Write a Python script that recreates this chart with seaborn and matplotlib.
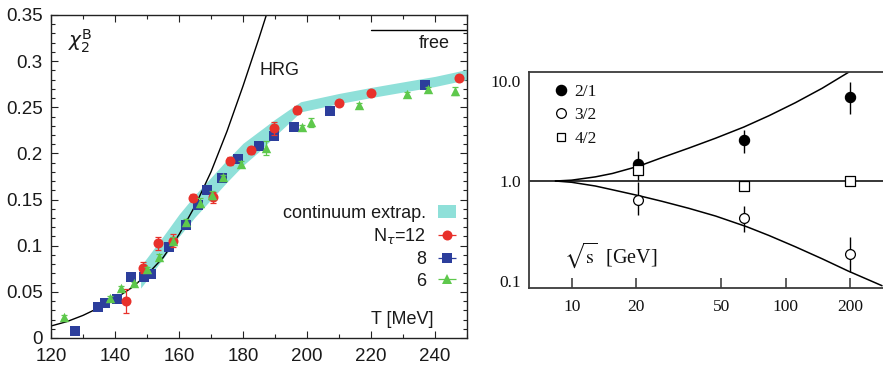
import numpy as np
import pandas as pd
import matplotlib
matplotlib.use("Agg")
import matplotlib.pyplot as plt
import seaborn as sns
from matplotlib.patches import Patch
from matplotlib.lines import Line2D
from matplotlib.ticker import MultipleLocator, FixedLocator, FixedFormatter, NullLocator, FuncFormatter

sns.set_theme(style="ticks")
plt.rcParams["font.family"] = ["Liberation Sans", "DejaVu Sans"]
plt.rcParams["mathtext.fontset"] = "dejavusans"

# ---------------- left panel: baryon number fluctuation chi_2^B vs T ----------------
# lattice results, N_tau = 12
T_nt12 = [143.4, 148.9, 153.5, 158.1, 164.3, 170.7, 175.8, 182.5, 189.6, 196.8, 210.0, 220.0, 247.6]
chi_nt12 = [0.040, 0.0762, 0.1026, 0.1055, 0.1520, 0.1524, 0.1918, 0.2035, 0.2272, 0.2470, 0.2550, 0.2650, 0.2820]
err_nt12 = [0.0134, 0.006, 0.0069, 0.007, 0.004, 0.006, 0.004, 0.004, 0.007, 0.004, 0.003, 0.003, 0.003]

# N_tau = 8
T_nt8 = [127.5, 134.6, 136.9, 140.6, 145.0, 149.2, 151.3, 157.0, 162.2, 166.0, 168.7, 173.3,
         178.4, 184.9, 189.7, 195.9, 207.2, 236.9]
chi_nt8 = [0.0079, 0.0333, 0.0383, 0.0419, 0.0664, 0.0657, 0.0693, 0.0983, 0.1224, 0.1440, 0.1604, 0.1730,
           0.1940, 0.2082, 0.2190, 0.2290, 0.2463, 0.2740]
err_nt8 = [0.002] * len(T_nt8)

# N_tau = 6
T_nt6 = [124.2, 138.3, 142.0, 145.8, 150.0, 153.9, 158.2, 162.3, 166.7, 170.2, 173.9, 179.5,
         187.2, 198.5, 201.3, 216.3, 231.1, 237.7, 246.3]
chi_nt6 = [0.0231, 0.0437, 0.0545, 0.0592, 0.0744, 0.0881, 0.1055, 0.1260, 0.1466, 0.1550, 0.1740, 0.1885,
           0.2055, 0.2283, 0.2337, 0.2525, 0.2644, 0.2695, 0.2680]
err_nt6 = [0.002, 0.002, 0.002, 0.002, 0.003, 0.003, 0.004, 0.003, 0.005, 0.004, 0.003, 0.003,
           0.0075, 0.003, 0.005, 0.002, 0.002, 0.003, 0.0045]

# continuum extrapolated band
T_band = [148, 150, 155, 160, 165, 170, 175, 180, 185, 190, 195, 198, 204, 210, 220, 230, 240, 250]
band_lo = [0.054, 0.063, 0.086, 0.110, 0.131, 0.150, 0.169, 0.187, 0.202, 0.219, 0.235, 0.245,
           0.2495, 0.254, 0.2605, 0.2665, 0.2725, 0.280]
band_hi = [0.078, 0.087, 0.110, 0.134, 0.155, 0.174, 0.193, 0.211, 0.224, 0.237, 0.249, 0.256,
           0.2605, 0.265, 0.2715, 0.2775, 0.2835, 0.291]

# hadron resonance gas
T_hrg = [120, 125, 130, 135, 140, 145, 150, 155, 160, 165, 170, 175, 180, 185, 187.3]
chi_hrg = [0.013, 0.0178, 0.0245, 0.0328, 0.0425, 0.054, 0.0685, 0.087, 0.112, 0.143, 0.180,
           0.224, 0.273, 0.325, 0.35]

# free (Stefan-Boltzmann) limit
free_T = [220, 250]
free_val = 0.3337

# ---------------- right panel: ratios vs sqrt(s) ----------------
sqrt_s = [20.5, 64.0, 200.0]
r21 = [1.49, 2.56, 6.96]
r21_lo = [1.02, 1.92, 4.67]
r21_hi = [1.99, 3.22, 9.84]
r32 = [0.645, 0.428, 0.185]
r32_lo = [0.456, 0.306, 0.123]
r32_hi = [0.98, 0.565, 0.272]
r42 = [1.28, 0.90, 1.00]

s_up = [8.4, 10, 12.9, 15.5, 20.6, 26.5, 35.3, 47.1, 63.8, 83.6, 111, 148, 197.7]
r_up = [1.00, 1.02, 1.10, 1.19, 1.41, 1.72, 2.14, 2.69, 3.48, 4.52, 6.10, 8.51, 12.4]
s_dn = [8.4, 10, 12.9, 15.5, 20.6, 26.5, 35.3, 47.1, 66, 83.6, 111, 148, 196, 282]
r_dn = [1.00, 0.971, 0.891, 0.817, 0.713, 0.625, 0.532, 0.445, 0.347, 0.284, 0.219, 0.166, 0.125, 0.0891]

C12, C8, C6 = "#e8312b", "#2c3e9c", "#5ec84c"
CBAND = "#8fe0d9"

fig = plt.figure(figsize=(8.83, 3.67), dpi=100)
axL = fig.add_axes([51 / 883, 29 / 367, 416 / 883, 323 / 367])
axR = fig.add_axes([529 / 883, 79 / 367, 354 / 883, 216 / 367])

# ---- left panel drawing ----
axL.fill_between(T_band, band_lo, band_hi, color=CBAND, lw=0, zorder=1)
sns.lineplot(x=T_hrg, y=chi_hrg, ax=axL, color="black", lw=1.0, sort=False, estimator=None, zorder=2)
axL.plot(free_T, [free_val, free_val], color="black", lw=1.0)

series = [
    (T_nt8, chi_nt8, err_nt8, C8, "s", 60),
    (T_nt12, chi_nt12, err_nt12, C12, "o", 52),
    (T_nt6, chi_nt6, err_nt6, C6, "^", 46),
]
for i, (T, v, e, c, m, s) in enumerate(series):
    axL.errorbar(T, v, yerr=e, fmt="none", ecolor=c, elinewidth=0.9, capsize=2.5, capthick=0.9, zorder=3 + 2 * i)
    sns.scatterplot(x=T, y=v, ax=axL, marker=m, s=s, color=c, linewidth=0, zorder=4 + 2 * i)

axL.set_xlim(120, 250)
axL.set_ylim(0, 0.35)
axL.xaxis.set_major_locator(MultipleLocator(20))
axL.xaxis.set_minor_locator(MultipleLocator(10))
axL.yaxis.set_major_locator(MultipleLocator(0.05))
axL.yaxis.set_minor_locator(MultipleLocator(0.01))
axL.yaxis.set_major_formatter(FuncFormatter(lambda v, p: f"{v:g}"))
axL.tick_params(which="both", direction="in", top=True, right=True, width=0.8, colors="#222222",
                labelsize=13.5, labelcolor="#1a1a1a")
axL.tick_params(which="major", length=5)
axL.tick_params(which="minor", length=3)
axL.tick_params(axis="x", pad=7)
axL.tick_params(axis="y", pad=6)
axL.set_xlabel("")
axL.set_ylabel("")
for sp in axL.spines.values():
    sp.set_color("#222222")
    sp.set_linewidth(1.0)

axL.text(125.3, 0.321, r"$\chi_{\mathrm{2}}^{\mathrm{B}}$", fontsize=14.5, va="center", ha="left", color="#1a1a1a")
axL.text(185.1, 0.290, "HRG", fontsize=13, va="center", ha="left", color="#1a1a1a")
axL.text(244.7, 0.319, "free", fontsize=13, va="center", ha="right", color="#1a1a1a")
axL.text(239.4, 0.020, "T [MeV]", fontsize=13, va="center", ha="right", color="#1a1a1a")

handles = [Patch(facecolor=CBAND, edgecolor="none")]
for T, v, e, c, m, s in [series[1], series[0], series[2]]:
    h = axL.errorbar([np.nan], [np.nan], xerr=[1.0], fmt=m, color=c, ms=np.sqrt(s), mew=0,
                     elinewidth=0.9, capsize=2.5, capthick=0.9)
    handles.append(h)
labels = ["continuum extrap.", r"N$_\tau$=12", "8", "6"]
axL.legend(handles, labels, loc="upper right", bbox_to_anchor=(0.974, 0.413), frameon=False,
           markerfirst=False, handlelength=1.0, handletextpad=0.68, labelspacing=0.26,
           fontsize=13, borderpad=0, borderaxespad=0, labelcolor="#1a1a1a")

# ---- right panel drawing ----
axR.set_xscale("log")
axR.set_yscale("log")
axR.axhline(1.0, color="black", lw=1.1, zorder=1)
sns.lineplot(x=s_up, y=r_up, ax=axR, color="black", lw=1.1, sort=False, estimator=None, zorder=1)
sns.lineplot(x=s_dn, y=r_dn, ax=axR, color="black", lw=1.1, sort=False, estimator=None, zorder=1)

for r, lo, hi in [(r21, r21_lo, r21_hi), (r32, r32_lo, r32_hi)]:
    yerr = [np.subtract(r, lo), np.subtract(hi, r)]
    axR.errorbar(sqrt_s, r, yerr=yerr, fmt="none", ecolor="black", elinewidth=1.0, zorder=2)

sns.scatterplot(x=sqrt_s, y=r21, ax=axR, marker="o", s=55, color="black", edgecolor="black", linewidth=0.8, zorder=3)
sns.scatterplot(x=sqrt_s, y=r32, ax=axR, marker="o", s=50, color="white", edgecolor="black", linewidth=0.9, zorder=3)
sns.scatterplot(x=sqrt_s, y=r42, ax=axR, marker="s", s=42, color="white", edgecolor="black", linewidth=0.9, zorder=3)

axR.set_xlim(6.32, 285)
axR.set_ylim(0.0845, 12.4)
axR.xaxis.set_major_locator(FixedLocator([10, 20, 50, 100, 200]))
axR.xaxis.set_major_formatter(FixedFormatter(["10", "20", "50", "100", "200"]))
axR.xaxis.set_minor_locator(NullLocator())
axR.yaxis.set_major_locator(FixedLocator([0.1, 1.0, 10.0]))
axR.yaxis.set_major_formatter(FixedFormatter(["0.1", "1.0", "10.0"]))
axR.yaxis.set_minor_locator(NullLocator())
axR.tick_params(axis="x", direction="in", length=7, width=1.1, pad=8, labelsize=12.5,
                colors="#333333", labelcolor="#111111", labelfontfamily="Liberation Serif")
axR.tick_params(axis="y", length=0, pad=6, labelsize=12.5, labelcolor="#111111",
                labelfontfamily="Liberation Serif")
axR.set_xlabel("")
axR.set_ylabel("")
axR.spines["right"].set_visible(False)
for k in ["left", "top", "bottom"]:
    axR.spines[k].set_color("#3a3a3a")
    axR.spines[k].set_linewidth(1.3)

axR.text(0.099, 0.153, r"$\sqrt{\mathrm{s}}$  [GeV]", transform=axR.transAxes, fontsize=14.5,
         va="center", ha="left", family="Liberation Serif", math_fontfamily="stix", color="#111111")

rh = [
    Line2D([], [], ls="none", marker="o", ms=7.3, mfc="black", mec="black"),
    Line2D([], [], ls="none", marker="o", ms=7, mfc="white", mec="black", mew=0.9),
    Line2D([], [], ls="none", marker="s", ms=6.3, mfc="white", mec="black", mew=0.9),
]
axR.legend(rh, ["2/1", "3/2", "4/2"], loc="upper left", bbox_to_anchor=(0.07, 0.945), frameon=False,
           handlelength=0.8, handletextpad=0.4, labelspacing=0.42, borderpad=0, borderaxespad=0,
           prop={"family": "Liberation Serif", "size": 12.5}, labelcolor="#111111")

fig.savefig("out.png", dpi=100)
